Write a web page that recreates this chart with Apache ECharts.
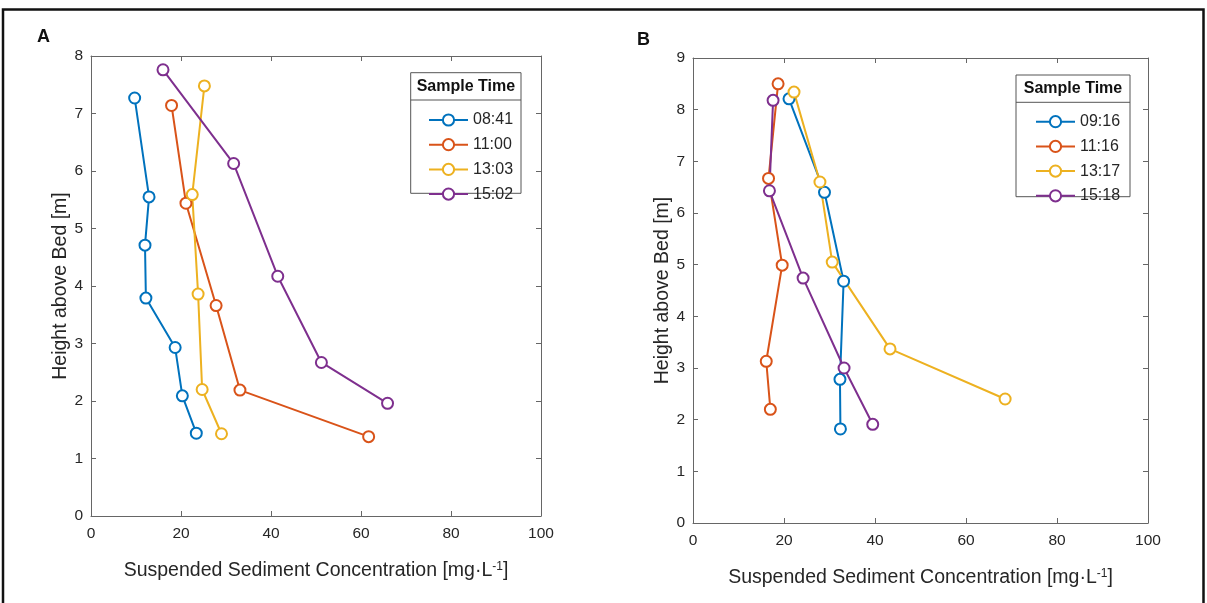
<!DOCTYPE html>
<html>
<head>
<meta charset="utf-8">
<script src="https://cdn.jsdelivr.net/npm/echarts@6/dist/echarts.min.js"></script>
<style>
html,body{margin:0;padding:0;background:#fff;}
#main{width:1207px;height:603px;}
</style>
</head>
<body>
<div id="main"></div>
<script>
// ---- Data ----
var timesA = ['08:41', '11:00', '13:03', '15:02'];
var timesB = ['09:16', '11:16', '13:17', '15:18'];

// Panel A: concentration (mg/L) and height above bed (m)
var a0841_x = [9.7, 12.9, 12.0, 12.2, 18.7, 20.3, 23.4];
var a0841_y = [7.27, 5.55, 4.71, 3.79, 2.93, 2.09, 1.44];
var a1100_x = [17.9, 21.1, 27.8, 33.1, 61.7];
var a1100_y = [7.14, 5.44, 3.66, 2.19, 1.38];
var a1303_x = [25.2, 22.5, 23.8, 24.7, 29.0];
var a1303_y = [7.48, 5.59, 3.86, 2.20, 1.43];
var a1502_x = [16.0, 31.7, 41.5, 51.2, 65.9];
var a1502_y = [7.76, 6.13, 4.17, 2.67, 1.96];

// Panel B
var b0916_x = [21.1, 28.9, 33.1, 32.3, 32.4];
var b0916_y = [8.21, 6.40, 4.68, 2.78, 1.82];
var b1116_x = [18.7, 16.6, 19.6, 16.1, 17.0];
var b1116_y = [8.50, 6.67, 4.99, 3.13, 2.20];
var b1317_x = [22.2, 27.9, 30.6, 43.3, 68.6];
var b1317_y = [8.34, 6.60, 5.05, 3.37, 2.40];
var b1518_x = [17.6, 16.8, 24.2, 33.2, 39.5];
var b1518_y = [8.18, 6.43, 4.74, 3.00, 1.91];

var xTicks = [0, 20, 40, 60, 80, 100];
var yMaxA = 8, yMaxB = 9;

// ---- Styling ----
var colors = ['#0072BD', '#D95319', '#EDB120', '#7E2F8E'];
var FONT = '"Liberation Sans", Arial, sans-serif';
var TXT = '#262626';
var AX = '#666666';

function pairs(xs, ys) { return xs.map(function (v, i) { return [v, ys[i]]; }); }

function mkSeries(name, xs, ys, ci, gi) {
  return {
    type: 'line', name: name, xAxisIndex: gi * 2, yAxisIndex: gi * 2,
    data: pairs(xs, ys),
    symbol: 'emptyCircle', symbolSize: 11,
    lineStyle: { width: 2, color: colors[ci] },
    itemStyle: { color: colors[ci], borderWidth: 1.8 },
    emphasis: { disabled: true }, animation: false
  };
}

function xAxes(gi) {
  var mk = function (pos, showLabel) {
    var ax = {
      type: 'value', gridIndex: gi, position: pos,
      min: xTicks[0], max: xTicks[xTicks.length - 1],
      interval: xTicks[1] - xTicks[0], splitLine: { show: false },
      axisLine: { show: true, onZero: false, lineStyle: { color: AX, width: 1 } },
      axisTick: { show: true, inside: true, length: 5, lineStyle: { color: AX } },
      axisLabel: { show: showLabel, color: TXT, fontSize: 15.5, fontFamily: FONT, margin: 10 }
    };
    if (showLabel) {
      ax.name = '{a|Suspended Sediment Concentration [mg·L}{s|-1}{a|]}';
      ax.nameLocation = 'middle';
      ax.nameGap = 45;
      ax.nameTextStyle = {
        color: TXT, fontFamily: FONT,
        rich: {
          a: { fontSize: 19.5, color: TXT, fontFamily: FONT },
          s: { fontSize: 12, color: TXT, fontFamily: FONT, verticalAlign: 'top' }
        }
      };
    }
    return ax;
  };
  return [mk('bottom', true), mk('top', false)];
}

function yAxes(gi, ymax) {
  var mk = function (pos, showLabel) {
    var ax = {
      type: 'value', gridIndex: gi, position: pos, min: 0, max: ymax, interval: 1,
      splitLine: { show: false },
      axisLine: { show: true, onZero: false, lineStyle: { color: AX, width: 1 } },
      axisTick: { show: true, inside: true, length: 5, lineStyle: { color: AX } },
      axisLabel: { show: showLabel, color: TXT, fontSize: 15.5, fontFamily: FONT, margin: 8 }
    };
    if (showLabel) {
      ax.name = 'Height above Bed [m]';
      ax.nameLocation = 'middle';
      ax.nameGap = 19;
      ax.nameTextStyle = { color: TXT, fontSize: 19.5, fontFamily: FONT };
    }
    return ax;
  };
  return [mk('left', true), mk('right', false)];
}

function legendFor(names, left, top) {
  return {
    data: names, orient: 'vertical', left: left, top: top,
    itemWidth: 39, itemHeight: 14, itemGap: 8.7,
    textStyle: { color: TXT, fontSize: 16, fontFamily: FONT },
    selectedMode: false, z: 6
  };
}

function legendBox(x1, y1, x2, y2, sep, title) {
  return [
    { type: 'rect', z: 5, shape: { x: x1, y: y1, width: x2 - x1, height: y2 - y1 },
      style: { fill: '#fff', stroke: '#555', lineWidth: 1 } },
    { type: 'line', z: 5, shape: { x1: x1, y1: sep, x2: x2, y2: sep },
      style: { stroke: '#555', lineWidth: 1 } },
    { type: 'text', z: 6, x: (x1 + x2) / 2, y: (y1 + sep) / 2,
      style: { text: title, fill: '#111', font: 'bold 16px ' + FONT, align: 'center', verticalAlign: 'middle' } }
  ];
}

var chart = echarts.init(document.getElementById('main'), null, { renderer: 'canvas' });

var xa = xAxes(0).concat(xAxes(1));
var ya = yAxes(0, yMaxA).concat(yAxes(1, yMaxB));

var graphics = [
  { type: 'polyline', z: 10, shape: { points: [[3, 603], [3, 9.5], [1203.5, 9.5], [1203.5, 603]] },
    style: { stroke: '#111', lineWidth: 2.5, fill: null } },
  { type: 'text', z: 10, x: 37, y: 37.5,
    style: { text: 'A', fill: '#111', font: 'bold 18px ' + FONT, verticalAlign: 'middle' } },
  { type: 'text', z: 10, x: 637, y: 40,
    style: { text: 'B', fill: '#111', font: 'bold 18px ' + FONT, verticalAlign: 'middle' } }
].concat(legendBox(410.7, 72.7, 521, 193.3, 100, 'Sample Time'))
 .concat(legendBox(1016, 75, 1130, 196.7, 102.3, 'Sample Time'));

chart.setOption({
  animation: false,
  backgroundColor: '#fff',
  grid: [
    { left: 91, top: 56, width: 450, height: 460, containLabel: false },
    { left: 693, top: 58, width: 455, height: 465, containLabel: false }
  ],
  xAxis: xa,
  yAxis: ya,
  legend: [legendFor(timesA, 423, 107), legendFor(timesB, 1030, 108.7)],
  graphic: graphics,
  series: [
    mkSeries(timesA[0], a0841_x, a0841_y, 0, 0),
    mkSeries(timesA[1], a1100_x, a1100_y, 1, 0),
    mkSeries(timesA[2], a1303_x, a1303_y, 2, 0),
    mkSeries(timesA[3], a1502_x, a1502_y, 3, 0),
    mkSeries(timesB[0], b0916_x, b0916_y, 0, 1),
    mkSeries(timesB[1], b1116_x, b1116_y, 1, 1),
    mkSeries(timesB[2], b1317_x, b1317_y, 2, 1),
    mkSeries(timesB[3], b1518_x, b1518_y, 3, 1)
  ]
});
</script>
</body>
</html>
